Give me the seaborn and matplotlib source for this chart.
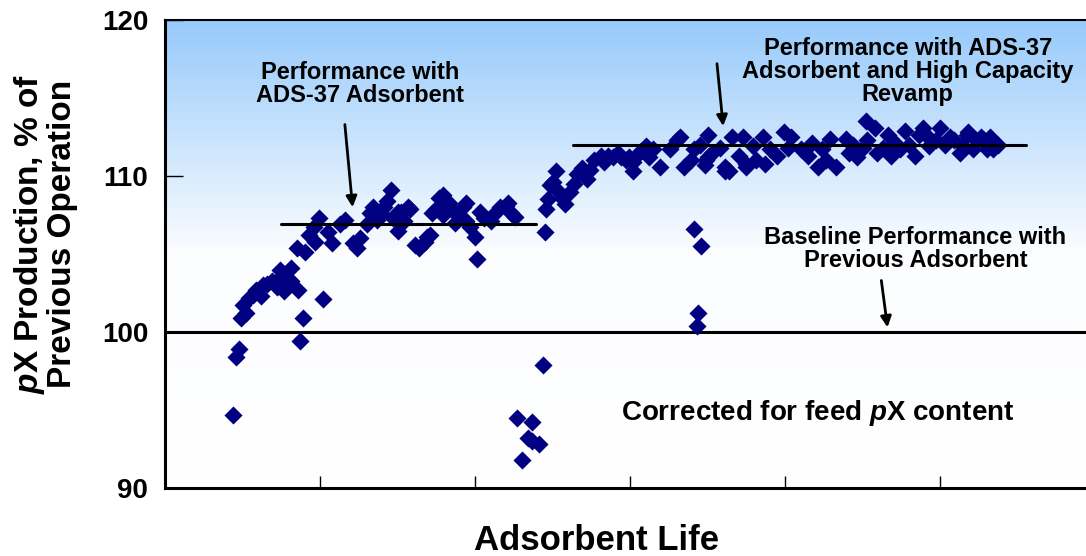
import matplotlib
matplotlib.use('Agg')
import matplotlib.pyplot as plt
from matplotlib.colors import LinearSegmentedColormap
import seaborn as sns
import numpy as np
import pandas as pd

# Adsorbent life (arbitrary units, ticks every 100) and pX production (% of previous)
life = [
    44, 46, 48, 49, 52, 50, 54, 57, 59, 62, 63, 66, 69, 72, 74, 75, 77, 79, 77, 81,
    81, 86, 89, 87, 102, 85, 90, 93, 96, 97, 99, 105, 108, 113, 116, 121, 124, 126, 130, 132,
    134, 137, 139, 143, 146, 147, 150, 154, 158, 161, 164, 168, 171, 172, 175, 177, 179, 182, 185, 187,
    190, 192, 194, 197, 201, 203, 206, 210, 213, 216, 220, 223, 226, 141, 152, 157, 150, 169, 179, 183,
    194, 200, 221,
    227, 237, 234, 237, 241, 230, 244, 245,
    247, 250, 252, 248, 253, 256, 246, 258, 261, 264, 266, 269, 272, 274, 277, 281, 283, 286,
    289, 292, 294, 297, 299, 302, 304, 307, 310, 312, 315, 319, 326, 332, 335, 341, 350, 350,
    353, 361, 366, 375, 379, 330, 302, 349, 361, 348, 364, 345, 339, 358, 370, 381,
    341, 346, 344, 343,
    373, 375, 386, 387, 399, 404, 410, 421, 429, 433, 439, 446, 452, 458, 453, 459, 466, 471,
    477, 489, 493, 500, 506, 513, 518, 526, 532, 537, 517, 528, 535,
    390, 395, 402, 415, 417, 424, 426, 441, 444, 450, 463, 468, 474, 480, 484, 486, 492, 497,
    503, 509, 514, 521, 523, 530, 534,
]
production = [
    94.7, 98.4, 98.9, 100.9, 101.2, 101.7, 102.2, 102.4, 102.7, 102.3, 103.0, 103.1, 103.3, 102.9, 104.0, 103.5, 103.7, 103.0, 102.6, 104.1,
    103.3, 102.7, 100.9, 99.4, 102.1, 105.4, 105.1, 106.2, 106.7, 105.8, 107.3, 106.4, 105.7, 106.9, 107.2, 105.7, 105.4, 106.0, 106.9, 107.6,
    108.0, 107.2, 107.6, 108.4, 109.1, 107.3, 107.7, 107.1, 107.9, 105.6, 105.4, 105.8, 106.2, 107.6, 107.9, 108.6, 107.5, 108.1, 107.8, 107.0,
    107.4, 108.0, 107.1, 106.7, 104.7, 107.7, 107.3, 107.1, 107.6, 108.0, 108.1, 107.6, 107.4, 108.0, 107.7, 108.0, 106.5, 106.1, 108.8, 108.3,
    108.3, 106.1, 108.3,
    94.5, 94.2, 93.2, 93.0, 92.8, 91.8, 97.9, 106.4,
    108.5, 109.6, 110.3, 109.4, 109.1, 108.6, 107.9, 108.2, 109.0, 109.5, 110.1, 110.5, 109.8, 110.4, 111.0, 111.3, 110.9, 111.3,
    111.2, 111.5, 111.2, 111.0, 111.2, 110.9, 111.3, 111.6, 111.9, 111.2, 111.7, 110.6, 111.7, 112.5, 110.6, 111.7, 112.6, 111.2,
    111.5, 110.6, 112.5, 110.6, 111.9, 112.3, 110.3, 111.0, 110.3, 110.7, 110.3, 112.0, 111.0, 111.8, 111.3, 111.0,
    106.6, 105.5, 101.2, 100.4,
    112.5, 110.8, 112.5, 110.8, 112.8, 112.5, 111.7, 110.6, 112.4, 110.6, 112.4, 111.2, 113.5, 113.1, 112.3, 111.5, 112.6, 112.1,
    112.9, 113.1, 111.9, 113.1, 112.5, 111.5, 112.8, 112.5, 112.5, 112.0, 112.6, 112.3, 112.1,
    111.7, 111.3, 111.8, 111.3, 112.1, 111.7, 111.0, 111.5, 112.0, 111.8, 111.8, 111.3, 111.7, 112.0, 111.3, 112.6, 112.5, 112.3,
    112.0, 112.3, 112.0, 111.7, 112.3, 111.7, 111.7,
]

# average performance levels (start, end, level)
ads37_seg = [75, 239, 106.9]
revamp_seg = [263, 555, 112.0]
baseline = 100

df = pd.DataFrame({'life': life, 'production': production})

sns.set_style('white')
plt.rcParams['font.family'] = ['Liberation Sans', 'DejaVu Sans']
plt.rcParams['font.weight'] = 'bold'
plt.rcParams['text.color'] = 'black'
plt.rcParams['axes.labelcolor'] = 'black'
plt.rcParams['xtick.color'] = 'black'
plt.rcParams['ytick.color'] = 'black'
plt.rcParams['mathtext.fontset'] = 'custom'
plt.rcParams['mathtext.it'] = 'Liberation Sans:bold:italic'
plt.rcParams['mathtext.rm'] = 'Liberation Sans:bold'

fig = plt.figure(figsize=(10.86, 5.56), dpi=100)
ax = fig.add_axes([165 / 1086, 1 - 488 / 556, 1 - 165 / 1086, (488 - 20) / 556])

# blue to white gradient background
grad = LinearSegmentedColormap.from_list('bg', ['#FFFFFF', '#FCFDFF', '#97CAFB'])
ax.imshow(np.linspace(0, 1, 256)[:, None], extent=[0, 1, 0, 1], transform=ax.transAxes,
          cmap=grad, aspect='auto', origin='lower', zorder=0)

sns.scatterplot(data=df, x='life', y='production', marker='D', color='#000080',
                s=85, linewidth=0, ax=ax, zorder=3)

ax.axhline(baseline, color='black', lw=2.2, zorder=2)
ax.plot(ads37_seg[:2], [ads37_seg[2]] * 2, color='black', lw=2.2, zorder=4)
ax.plot(revamp_seg[:2], [revamp_seg[2]] * 2, color='black', lw=2.2, zorder=4)

ax.set_xlim(0, 594)
ax.set_ylim(90, 120)
ax.set_xticks([100, 200, 300, 400, 500])
ax.set_xticklabels([])
ax.set_yticks([90, 100, 110, 120])
ax.tick_params(axis='y', direction='in', length=13, width=1, pad=12, labelsize=20, left=True,
               colors='black')
ax.tick_params(axis='x', direction='in', length=9, width=1, bottom=True, colors='black')
for lab in ax.get_yticklabels():
    lab.set_fontweight('bold')
ax.set_xlabel('')
ax.set_ylabel('')

ax.spines['right'].set_visible(False)
ax.spines['left'].set_linewidth(2.2)
ax.spines['bottom'].set_linewidth(2.2)
ax.spines['top'].set_linewidth(1.5)
for s in ['left', 'bottom', 'top']:
    ax.spines[s].set_color('black')

arrow = dict(arrowstyle='-|>', lw=2, color='black', mutation_scale=16, shrinkA=0, shrinkB=0)
ax.annotate('', xy=(121, 108.0), xytext=(116, 113.3), arrowprops=arrow, zorder=5)
ax.text(126, 115.9, 'Performance with\nADS-37 Adsorbent', ha='center', va='center',
        fontsize=17, fontweight='bold', linespacing=1.0, color='black')

ax.annotate('', xy=(360, 113.2), xytext=(356, 117.2), arrowprops=arrow, zorder=5)
ax.text(479, 116.7, 'Performance with ADS-37\nAdsorbent and High Capacity\nRevamp', ha='center',
        va='center', fontsize=17, fontweight='bold', linespacing=1.0, color='black')

ax.annotate('', xy=(466, 100.3), xytext=(462, 103.3), arrowprops=arrow, zorder=5)
ax.text(484, 105.3, 'Baseline Performance with\nPrevious Adsorbent', ha='center', va='center',
        fontsize=17, fontweight='bold', linespacing=1.0, color='black')

ax.text(421, 94.8, 'Corrected for feed $p$X content', ha='center', va='center',
        fontsize=20, fontweight='bold', color='black')

fig.text(45 / 1086, 1 - 234 / 556, '$p$X Production, % of\nPrevious Operation', rotation=90,
         ha='center', va='center', fontsize=24, fontweight='bold', linespacing=1.0, color='black')
fig.text(597 / 1086, 1 - 540 / 556, 'Adsorbent Life', ha='center', va='center',
         fontsize=25, fontweight='bold', color='black')

fig.savefig('out.png', dpi=100, facecolor='white')
